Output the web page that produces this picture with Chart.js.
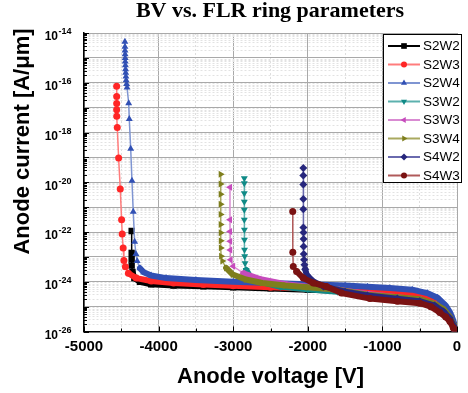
<!DOCTYPE html>
<html lang="en">
<head>
<meta charset="UTF-8" />
<title>BV vs. FLR ring parameters</title>
<script src="https://cdn.jsdelivr.net/npm/chart.js@4"></script>
<style>
  html, body { margin: 0; padding: 0; background: #fff; }
  #wrap { width: 468px; height: 393px; }
</style>
</head>
<body>
<div id="wrap"><canvas id="bvChart" width="468" height="393"></canvas></div>
<script>
  // [anode voltage (V), anode current (A/um)]
  var S2W2 = [
    [-4361, 1.1e-22], [-4361, 1.45e-23], [-4361, 8.0e-24], [-4361, 4.5e-24],
    [-4350, 2.5e-24], [-4325, 1.4e-24], [-4250, 1.0e-24], [-4100, 7.9e-25], [-3800, 7.1e-25],
    [-3400, 6.6e-25], [-3000, 6.0e-25], [-2500, 5.4e-25], [-2000, 4.8e-25], [-1500, 4.2e-25],
    [-1000, 3.5e-25], [-700, 3.2e-25], [-400, 2.4e-25], [-250, 1.4e-25], [-150, 7.9e-26],
    [-80, 3.5e-26], [-40, 1.8e-26], [-15, 7.9e-27], [0, 4e-27]
  ];
  var S2W3 = [
    [-4562, 7.2e-17], [-4562, 2.8e-17], [-4562, 1.45e-17], [-4562, 8.3e-18], [-4561, 4.5e-18],
    [-4554, 1.6e-18], [-4536, 9.5e-20], [-4514, 5.4e-21], [-4496, 3.1e-22], [-4488, 8.3e-23],
    [-4475, 2.3e-23], [-4465, 7.2e-24], [-4445, 4.0e-24], [-4405, 2.2e-24], [-4300, 1.4e-24],
    [-4100, 1.07e-24], [-3800, 8.9e-25], [-3400, 7.8e-25], [-3000, 6.9e-25], [-2500, 6.0e-25],
    [-2000, 5.4e-25], [-1500, 4.7e-25], [-1200, 4.2e-25], [-900, 3.8e-25], [-600, 3.3e-25],
    [-400, 2.5e-25], [-260, 1.6e-25], [-150, 7.9e-26], [-90, 4.0e-26], [-50, 2.0e-26],
    [-20, 8.9e-27], [0, 4e-27]
  ];
  var S2W4 = [
    [-4452, 4.5e-15], [-4451, 2.8e-15], [-4450, 2.0e-15], [-4449, 1.4e-15], [-4448, 1.0e-15],
    [-4447, 7.1e-16], [-4445, 5.0e-16], [-4443, 3.5e-16], [-4441, 2.5e-16], [-4438, 1.8e-16],
    [-4435, 1.26e-16], [-4429, 8.9e-17], [-4423, 6.5e-17], [-4401, 1.5e-17], [-4393, 3.5e-18],
    [-4374, 2.2e-19], [-4357, 1.15e-20], [-4340, 6.5e-22], [-4321, 4.1e-23], [-4304, 1.3e-23],
    [-4287, 6.8e-24], [-4250, 3.5e-24], [-4200, 2.4e-24], [-4100, 1.78e-24], [-3900, 1.4e-24],
    [-3500, 1.17e-24], [-3000, 1.0e-24], [-2500, 8.9e-25], [-2000, 7.9e-25], [-1500, 7.1e-25],
    [-1200, 6.3e-25], [-900, 5.6e-25], [-600, 4.8e-25], [-400, 3.5e-25], [-260, 2.3e-25],
    [-150, 1.1e-25], [-90, 5.6e-26], [-50, 2.8e-26], [-20, 1.26e-26], [0, 5e-27]
  ];
  var S3W2 = [
    [-2851, 1.45e-20], [-2851, 9.1e-21], [-2851, 3.6e-21], [-2851, 1.66e-21], [-2851, 7.8e-22],
    [-2851, 3.1e-22], [-2850, 1.23e-22], [-2849, 4.9e-23], [-2848, 1.95e-23], [-2846, 1.05e-23],
    [-2841, 5.6e-24], [-2826, 3.0e-24], [-2771, 1.58e-24], [-2636, 1.0e-24], [-2366, 6.3e-25],
    [-2000, 5.0e-25], [-1600, 4.0e-25], [-1200, 2.8e-25], [-800, 2.0e-25], [-500, 1.6e-25],
    [-300, 1.05e-25], [-180, 6.3e-26], [-100, 3.2e-26], [-50, 1.6e-26], [-20, 8e-27], [0, 4e-27]
  ];
  var S3W3 = [
    [-3043, 6.3e-21], [-3043, 3.1e-22], [-3042, 1.05e-22], [-3041, 4.2e-23], [-3040, 1.9e-23],
    [-3035, 7.6e-24], [-3000, 4.2e-24], [-2865, 2.2e-24], [-2650, 1.3e-24], [-2300, 7.9e-25],
    [-2000, 6.3e-25], [-1600, 4.8e-25], [-1200, 3.2e-25], [-800, 2.4e-25], [-500, 1.9e-25],
    [-300, 1.26e-25], [-180, 7.1e-26], [-100, 3.5e-26], [-50, 1.8e-26], [-20, 8e-27], [0, 4e-27]
  ];
  var S3W4 = [
    [-3168, 2.1e-20], [-3168, 8.5e-21], [-3168, 3.3e-21], [-3168, 1.3e-21], [-3168, 5.1e-22],
    [-3168, 2.0e-22], [-3167, 9.3e-23], [-3166, 4.4e-23], [-3165, 2.3e-23], [-3162, 1.07e-23],
    [-3145, 6.8e-24], [-3095, 3.6e-24], [-3005, 1.95e-24], [-2830, 1.23e-24], [-2610, 8.9e-25],
    [-2300, 7.1e-25], [-2000, 6.0e-25], [-1600, 4.8e-25], [-1200, 3.0e-25], [-800, 2.4e-25],
    [-500, 2.0e-25], [-300, 1.3e-25], [-180, 7.9e-26], [-100, 4.0e-26], [-50, 2.0e-26],
    [-20, 8.9e-27], [0, 4e-27]
  ];
  var S4W2 = [
    [-2060, 3.7e-20], [-2060, 1.86e-20], [-2060, 8.1e-21], [-2060, 2.1e-21], [-2060, 8.3e-22],
    [-2059, 1.5e-22], [-2058, 9.5e-23], [-2057, 5.2e-23], [-2056, 2.6e-23], [-2054, 1.3e-23],
    [-2050, 7.6e-24], [-2045, 4.8e-24], [-2035, 3.2e-24], [-2015, 1.9e-24], [-1926, 1.02e-24],
    [-1790, 6.5e-25], [-1500, 4.0e-25], [-1200, 2.8e-25], [-800, 2.1e-25], [-500, 1.66e-25],
    [-300, 1.1e-25], [-180, 6.3e-26], [-100, 3.5e-26], [-50, 1.8e-26], [-20, 8e-27], [0, 4e-27]
  ];
  var S4W3 = [
    [-2202, 6.6e-22], [-2201, 1.55e-23], [-2195, 4.1e-24], [-2150, 2.6e-24], [-2060, 1.4e-24],
    [-1926, 8.9e-25], [-1750, 6.5e-25], [-1550, 3.5e-25], [-1166, 2.1e-25], [-800, 1.66e-25],
    [-500, 1.38e-25], [-350, 1.0e-25], [-230, 5.8e-26], [-150, 3.8e-26], [-94, 2.5e-26],
    [-50, 1.4e-26], [-20, 8e-27], [0, 4e-27]
  ];

  var seriesNames = ["S2W2", "S2W3", "S2W4", "S3W2", "S3W3", "S3W4", "S4W2", "S4W3"];
  var seriesData = [S2W2, S2W3, S2W4, S3W2, S3W3, S3W4, S4W2, S4W3];

  var xTickLabels = [-5000, -4000, -3000, -2000, -1000, 0];
  var yTickExponents = [-26, -24, -22, -20, -18, -16, -14];

  var markerColors = ["#000000", "#ff2626", "#3150b4", "#0f8a86", "#c64bbc", "#7e7e1c", "#26267c", "#7a1212"];
  var lineColors = ["#000000", "#ff7c7c", "#7f95d2", "#5cb1ae", "#d98bd2", "#a9a95f", "#6a6aae", "#b05a5a"];
  var markerStyles = ["rect", "circle", "triangle", "triangle", "triangle", "triangle", "rectRot", "circle"];
  var markerRotations = [0, 0, 0, 180, 270, 90, 0, 0];
  var markerSizes = [4.5, 3.5, 4, 4, 4, 4, 4, 3.5];

  var SANS = '"Liberation Sans", Arial, sans-serif';
  var BAND = 4e-24; // below this the dense markers read as a solid band

  function bandSegment(ctx) {
    var d = ctx.chart.data.datasets[ctx.datasetIndex].data;
    return d[ctx.p0DataIndex].y < BAND && d[ctx.p1DataIndex].y < BAND;
  }

  var datasets = seriesNames.map(function (name, i) {
    return {
      label: name,
      data: seriesData[i].map(function (p) { return { x: p[0], y: p[1] }; }),
      borderColor: lineColors[i],
      backgroundColor: markerColors[i],
      pointBackgroundColor: markerColors[i],
      pointBorderColor: markerColors[i],
      pointBorderWidth: 0,
      pointStyle: markerStyles[i],
      rotation: markerRotations[i],
      pointRadius: markerSizes[i],
      borderWidth: 1.5,
      borderJoinStyle: "round",
      borderCapStyle: "round",
      order: -i,
      segment: {
        borderWidth: function (ctx) { return bandSegment(ctx) ? 6 : 1.5; },
        borderColor: function (ctx) { return bandSegment(ctx) ? markerColors[i] : lineColors[i]; }
      }
    };
  });

  var decor = {
    id: "decor",
    afterDraw: function (chart) {
      var c = chart.ctx, a = chart.chartArea, xs = chart.scales.x, ys = chart.scales.y;
      c.save();

      // inward tick marks
      c.strokeStyle = "#000";
      c.lineWidth = 1;
      ys.ticks.forEach(function (t) {
        var py = Math.round(ys.getPixelForValue(t.value)) + 0.5;
        c.beginPath(); c.moveTo(a.left, py); c.lineTo(a.left + (t.major ? 5 : 3), py); c.stroke();
      });
      xs.ticks.forEach(function (t) {
        var px = Math.round(xs.getPixelForValue(t.value)) + 0.5;
        c.beginPath(); c.moveTo(px, a.bottom); c.lineTo(px, a.bottom - (t.value % 1000 === 0 ? 5 : 3)); c.stroke();
      });

      // y tick labels 10^n
      c.fillStyle = "#000";
      yTickExponents.forEach(function (e) {
        var py = ys.getPixelForValue(Math.pow(10, e));
        c.font = "bold 12px " + SANS;
        c.textAlign = "right"; c.textBaseline = "middle";
        c.fillText("10", 58, py + 4);
        c.font = "bold 9px " + SANS;
        c.textAlign = "left";
        c.fillText(String(e), 58.5, py - 1);
      });

      // y axis title
      c.save();
      c.translate(23, 141.5);
      c.rotate(-Math.PI / 2);
      c.font = "bold 22px " + SANS;
      c.textAlign = "center"; c.textBaseline = "middle";
      c.fillText("Anode current [A/\u03bcm]", 0, 0);
      c.restore();

      // chart title
      c.font = 'bold 22px "Liberation Serif", "Times New Roman", serif';
      c.textAlign = "center"; c.textBaseline = "alphabetic";
      c.fillText("BV vs. FLR ring parameters", 270, 17);

      // legend box
      var bx = 383.5, by = 34.5, bw = 78, bh = 148;
      c.fillStyle = "#fff";
      c.fillRect(bx, by, bw, bh);
      c.strokeStyle = "#000"; c.lineWidth = 1;
      c.strokeRect(bx, by, bw, bh);
      chart.data.datasets.forEach(function (ds, i) {
        var cy = 46 + i * 18.5;
        c.strokeStyle = ds.borderColor; c.lineWidth = 2;
        c.beginPath(); c.moveTo(388, cy); c.lineTo(420, cy); c.stroke();
        c.fillStyle = ds.pointBackgroundColor;
        c.strokeStyle = ds.pointBorderColor;
        if (Chart.helpers && Chart.helpers.drawPoint) {
          Chart.helpers.drawPoint(c, { pointStyle: ds.pointStyle, rotation: ds.rotation, radius: ds.pointRadius - 0.5, borderWidth: 0 }, 404, cy);
        } else {
          c.beginPath(); c.arc(404, cy, 3, 0, Math.PI * 2); c.fill();
        }
        c.fillStyle = "#000";
        c.font = "13.5px " + SANS;
        c.textAlign = "left"; c.textBaseline = "middle";
        c.fillText(ds.label, 423, cy + 0.5);
      });

      c.restore();
    }
  };

  var ctx = document.getElementById("bvChart").getContext("2d");
  var bvChart = new Chart(ctx, {
    type: "line",
    data: { datasets: datasets },
    plugins: [decor],
    options: {
      responsive: false,
      devicePixelRatio: 1,
      animation: false,
      events: [],
      layout: { padding: { left: 0, right: 11, top: 33, bottom: 0 } },
      plugins: { legend: { display: false }, tooltip: { enabled: false }, title: { display: false } },
      scales: {
        x: {
          type: "linear",
          min: -5000,
          max: 0,
          afterFit: function (s) { s.height = 61.5; },
          ticks: {
            stepSize: 500,
            autoSkip: false,
            maxRotation: 0,
            padding: 6,
            color: "#000",
            font: { family: SANS, size: 15, weight: "bold" },
            callback: function (v) { return xTickLabels.indexOf(v) >= 0 ? String(v) : ""; }
          },
          grid: {
            drawTicks: false,
            lineWidth: 1,
            color: function (ctx) { return ctx.tick && ctx.tick.value % 1000 === 0 ? "#a9a9a9" : "#dedede"; }
          },
          border: {
            display: true,
            color: "#000",
            width: 1.5,
            dash: function (ctx) { return ctx.tick && ctx.tick.value % 1000 === 0 ? [] : [2, 2]; }
          },
          title: {
            display: true,
            text: "Anode voltage [V]",
            color: "#000",
            font: { family: SANS, size: 22, weight: "bold" },
            padding: { top: 0, bottom: 3 }
          }
        },
        y: {
          type: "logarithmic",
          min: 1e-26,
          max: 1e-14,
          afterFit: function (s) { s.width = 84; },
          afterBuildTicks: function (s) {
            var ticks = [];
            for (var e = -26; e <= -14; e++) {
              for (var m = 1; m <= 9; m++) {
                if (e === -14 && m > 1) break;
                ticks.push({ value: m * Math.pow(10, e), major: m === 1 });
              }
            }
            s.ticks = ticks;
          },
          ticks: { display: false, autoSkip: false },
          grid: {
            drawTicks: false,
            lineWidth: 1,
            color: function (ctx) { return ctx.tick && ctx.tick.major ? "#a9a9a9" : "#e2e2e2"; }
          },
          border: {
            display: true,
            color: "#000",
            width: 1.5,
            dash: function (ctx) { return ctx.tick && ctx.tick.major ? [] : [2, 2]; }
          }
        }
      }
    }
  });
</script>
</body>
</html>
